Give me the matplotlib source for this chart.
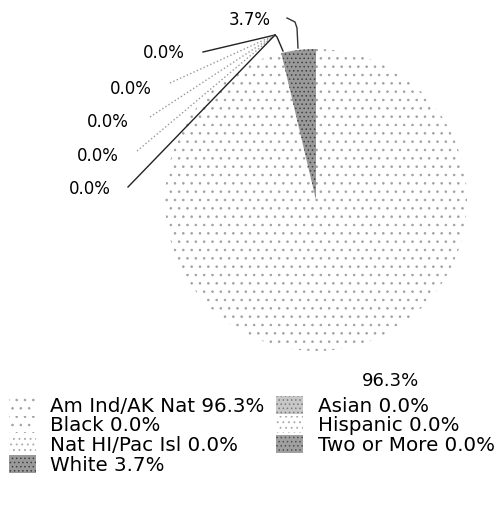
import matplotlib.pyplot as plt
from matplotlib.patches import Patch

groups = ["Am Ind/AK Nat", "Asian", "Black", "Hispanic", "Nat HI/Pac Isl",
          "Two or More", "White"]
shares = [96.3, 0.0, 0.0, 0.0, 0.0, 0.0, 3.7]

# fill style per group: (face, hatch colour, hatch)
styles = {
    "Am Ind/AK Nat": ("white", "#a0a0a0", ".."),
    "Asian": ("#c8c8c8", "#7a7a7a", "...."),
    "Black": ("white", "#a0a0a0", ".."),
    "Hispanic": ("white", "#a8a8a8", "..."),
    "Nat HI/Pac Isl": ("white", "#a8a8a8", "..."),
    "Two or More": ("#a0a0a0", "#505050", "...."),
    "White": ("#9a9a9a", "#404040", "...."),
}

plt.rcParams["font.family"] = ["DejaVu Sans"]
plt.rcParams["hatch.linewidth"] = 0.6

fig = plt.figure(figsize=(5.03, 5.12), dpi=100)
ax = fig.add_axes([0, 0, 1, 1])

wedges, _ = ax.pie(shares, startangle=90, counterclock=False,
                   wedgeprops=dict(linewidth=0))
for w, g in zip(wedges, groups):
    face, hc, h = styles[g]
    w.set_facecolor(face)
    w.set_edgecolor(hc)
    w.set_hatch(h)
    w.set_linewidth(0)

# map figure pixels to data units (pie centre at 316,200, radius 151 px)
cx, cy, r = 316, 200, 151
ax.set_xlim((0 - cx) / r, (503 - cx) / r)
ax.set_ylim((cy - 512) / r, (cy - 0) / r)
ax.set_aspect("auto")
ax.axis("off")


def px(x, y):
    return ((x - cx) / r, (cy - y) / r)


fs = 12
# big slice label
ax.text(*px(391, 381), f"{shares[0]:.1f}%", fontsize=13, ha="center", va="center")

# White slice label with bracket leader
ax.text(*px(250, 20), f"{shares[6]:.1f}%", fontsize=fs, ha="center", va="center")
ax.plot(*zip(px(287, 18), px(295, 22), px(297, 28), px(298, 48)), color="#333333", lw=1)

# zero-share labels with leader lines meeting near top of the pie
zero_pos = [(164, 53), (131, 89), (108, 122), (98, 156), (90, 189)]
line_start = [(203, 52), (170, 83), (150, 117), (137, 151), (128, 187)]
line_style = [("#222222", "-"), ("#999999", ":"), ("#999999", ":"),
              ("#999999", ":"), ("#222222", "-")]
for i, g in enumerate(groups[1:6]):
    ax.text(*px(*zero_pos[i]), f"{shares[i + 1]:.1f}%", fontsize=fs,
            ha="center", va="center")
    col, ls = line_style[i]
    ax.plot(*zip(px(*line_start[i]), px(275, 35)), color=col, ls=ls, lw=1)
ax.plot(*zip(px(275, 35), px(277, 37), px(283, 51)), color="#222222", lw=1)

# legend: column-wise order
order = [0, 2, 4, 6, 1, 3, 5]
handles = []
for i in order:
    face, hc, h = styles[groups[i]]
    handles.append(Patch(facecolor=face, edgecolor=hc, hatch=h, linewidth=0,
                         label=f"{groups[i]} {shares[i]:.1f}%"))
fig.legend(handles=handles, ncol=2, loc="upper left",
           bbox_to_anchor=(9 / 503, 1 - 396 / 512), frameon=False,
           fontsize=14.3, handlelength=1.35, handleheight=1.0, handletextpad=0.72,
           columnspacing=0.6, labelspacing=0.0, borderpad=0.0, borderaxespad=0.0)

fig.savefig("out.png", dpi=100)
